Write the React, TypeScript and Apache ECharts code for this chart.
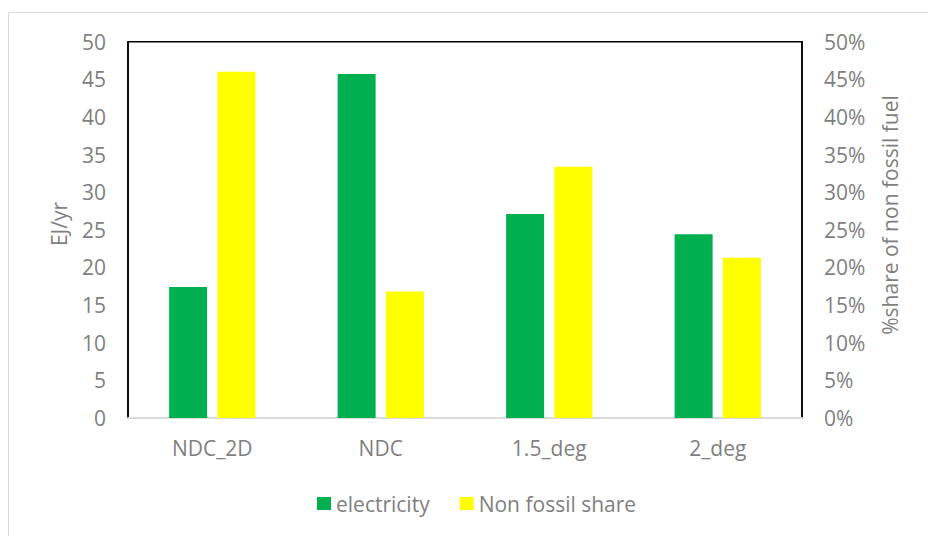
import React, { useEffect, useRef } from "react";
import * as echarts from "echarts";

const categories = ["NDC_2D", "NDC", "1.5_deg", "2_deg"];
const electricity = [17.4, 45.7, 27.1, 24.4];
const nonFossilShare = [46.0, 16.8, 33.4, 21.3];
const leftTicks = { min: 0, max: 50, interval: 5 };
const rightTicks = { min: 0, max: 50, interval: 5 };

const FONT = "Open Sans";
const GREY = "#7f7f7f";
const FS = 21;

export default function App() {
  const ref = useRef<HTMLDivElement>(null);
  useEffect(() => {
    if (!ref.current) return;
    const chart = echarts.init(ref.current, undefined, { renderer: "svg" });
    chart.setOption({
      animation: false,
      backgroundColor: "#ffffff",
      textStyle: { fontFamily: FONT },
      grid: {
        left: 128,
        right: 126,
        top: 41.7,
        bottom: 118,
        show: true,
        borderColor: "#000000",
        borderWidth: 1.5,
        backgroundColor: "transparent",
      },
      legend: {
        data: ["electricity", "Non fossil share"],
        left: 312,
        top: 488,
        itemWidth: 14,
        itemHeight: 13,
        itemGap: 30,
        icon: "rect",
        textStyle: { color: GREY, fontSize: FS, fontFamily: FONT },
      },
      graphic: [
        {
          type: "rect",
          shape: { x: 8.5, y: 12.5, width: 940, height: 600 },
          style: { fill: "none", stroke: "#d9d9d9", lineWidth: 1 },
          silent: true,
        },
        {
          type: "text",
          x: 59,
          y: 224,
          rotation: Math.PI / 2,
          style: {
            text: "EJ/yr",
            fill: GREY,
            font: `${FS}px '${FONT}'`,
            align: "center",
            verticalAlign: "middle",
          },
        },
        {
          type: "text",
          x: 890,
          y: 215,
          rotation: Math.PI / 2,
          style: {
            text: "%share of non fossil fuel",
            fill: GREY,
            font: `${FS}px '${FONT}'`,
            align: "center",
            verticalAlign: "middle",
          },
        },
      ],
      xAxis: {
        type: "category",
        data: categories,
        axisLine: { show: true, lineStyle: { color: "#d9d9d9", width: 2 } },
        axisTick: { show: false },
        axisLabel: { color: GREY, fontSize: FS, margin: 19, fontFamily: FONT },
      },
      yAxis: [
        {
          type: "value",
          min: leftTicks.min,
          max: leftTicks.max,
          interval: leftTicks.interval,
          splitLine: { show: false },
          axisLine: { show: true, lineStyle: { color: "#000000", width: 1.5 } },
          axisTick: { show: false },
          axisLabel: { color: GREY, fontSize: FS, margin: 22, fontFamily: FONT },
        },
        {
          type: "value",
          position: "right",
          min: rightTicks.min,
          max: rightTicks.max,
          interval: rightTicks.interval,
          splitLine: { show: false },
          axisLine: { show: true, lineStyle: { color: "#000000", width: 1.5 } },
          axisTick: { show: false },
          axisLabel: {
            color: GREY,
            fontSize: FS,
            margin: 22,
            fontFamily: FONT,
            formatter: "{value}%",
          },
        },
      ],
      series: [
        {
          name: "electricity",
          type: "bar",
          data: electricity,
          yAxisIndex: 0,
          barWidth: 38,
          barGap: "27%",
          itemStyle: { color: "#00b050" },
        },
        {
          name: "Non fossil share",
          type: "bar",
          data: nonFossilShare,
          yAxisIndex: 1,
          barWidth: 38,
          itemStyle: { color: "#ffff00" },
        },
      ],
    });
    return () => chart.dispose();
  }, []);
  return (
    <div
      ref={ref}
      style={{ position: "fixed", left: 0, top: 0, width: 928, height: 536 }}
    />
  );
}
